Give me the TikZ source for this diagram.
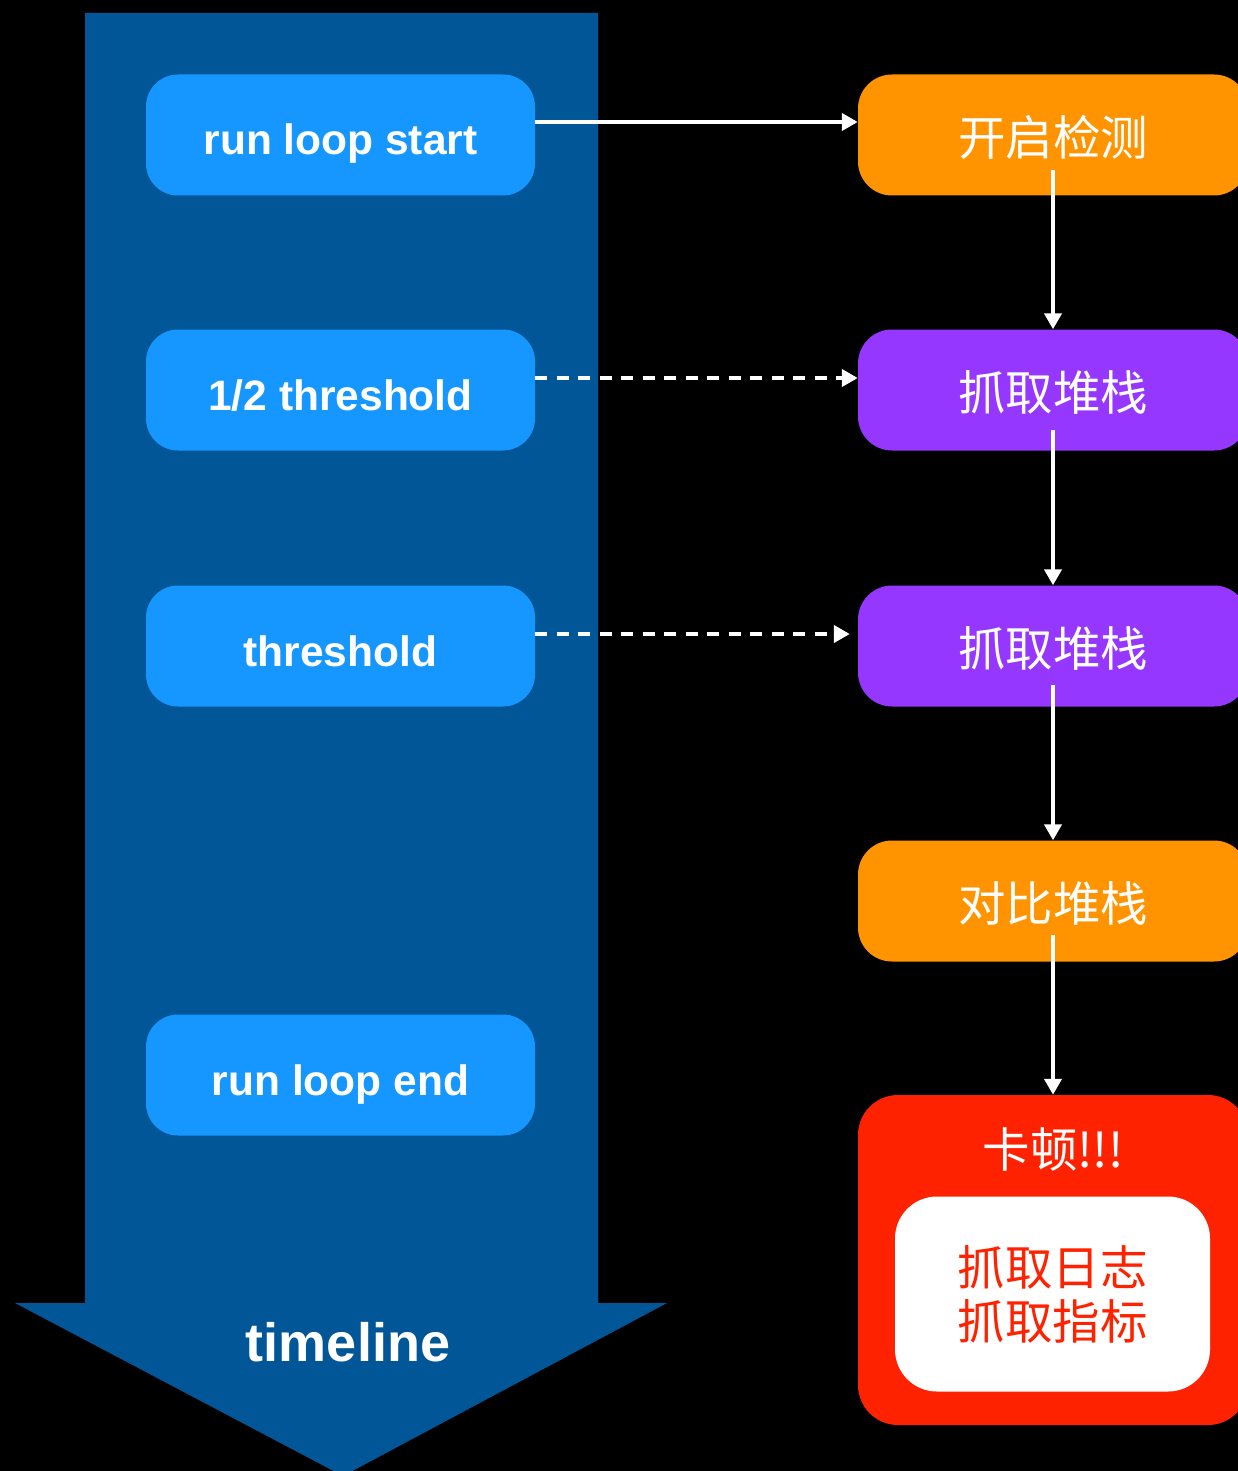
\documentclass[tikz,border=0pt]{standalone}
\usepackage{fontspec}
\setmainfont{Liberation Sans}
\newfontfamily\cjk{Noto Sans CJK SC}
\usetikzlibrary{arrows.meta}
\definecolor{shaftblue}{RGB}{0,86,150}
\definecolor{boxblue}{RGB}{21,151,255}
\definecolor{orng}{RGB}{255,148,0}
\definecolor{purp}{RGB}{149,55,255}
\definecolor{redbox}{RGB}{255,34,0}
\begin{document}
\begin{tikzpicture}[x=1pt,y=-1pt,
  tbox/.style={rectangle,rounded corners=32pt,fill=boxblue,minimum width=389pt,minimum height=121pt,inner sep=0pt,text=white,text height=40pt,text depth=0pt,font=\fontsize{42.5}{50}\selectfont\bfseries},
  rbox/.style={rectangle,rounded corners=34pt,minimum width=390pt,minimum height=121pt,inner sep=0pt,text=white,text height=41pt,text depth=0pt,font=\cjk\fontsize{47.5}{54}\selectfont},
  conn/.style={white,line width=4.5pt,-{Triangle[length=16pt,width=17pt]}},
  dconn/.style={conn,dash pattern=on 12pt off 9.5pt}]
\useasboundingbox (0,0) rectangle (1238,1471);
\fill[black] (0,0) rectangle (1238,1471);
% timeline arrow
\fill[shaftblue] (85,13) -- (598,13) -- (598,1303) -- (667,1303) -- (343,1476) -- (15,1303) -- (85,1303) -- cycle;
\node[text=white,font=\fontsize{54}{60}\selectfont\bfseries] (tl) at (348,1342) {timeline};
% left boxes
\node[tbox] (b1) at (340.5,135) {run loop start};
\node[tbox] (b2) at (340.5,390) {1/2 threshold};
\node[tbox] (b3) at (340.5,646) {threshold};
\node[tbox] (b4) at (340.5,1075) {run loop end};
% right boxes
\node[rbox,fill=orng] (r1) at (1053,135) {开启检测};
\node[rbox,fill=purp] (r2) at (1053,390) {抓取堆栈};
\node[rbox,fill=purp] (r3) at (1053,646) {抓取堆栈};
\node[rbox,fill=orng] (r4) at (1053,901) {对比堆栈};
\node[rbox,fill=redbox,minimum height=330pt,rounded corners=40pt] (r5) at (1053,1260) {};
\node[text=white,font=\cjk\fontsize{47.5}{54}\selectfont,inner sep=0pt] (kd) at (1053,1149) {卡顿!!!};
\node[rectangle,rounded corners=42pt,fill=white,minimum width=315pt,minimum height=195pt,inner sep=0pt,
  text=redbox,font=\cjk\fontsize{47.5}{54}\selectfont,align=center] (inner) at (1052.5,1294) {抓取日志\\抓取指标};
% connectors
\draw[conn] ([yshift=13pt]b1.east) -- ([yshift=13pt]r1.west);
\draw[dconn] ([yshift=12pt]b2.east) -- ([yshift=12pt]r2.west);
\draw[dconn] ([yshift=12pt]b3.east) -- ([yshift=12pt,xshift=-8pt]r3.west);
\draw[conn] ([yshift=-35pt]r1.center) -- (r2.north);
\draw[conn] ([yshift=-40pt]r2.center) -- (r3.north);
\draw[conn] ([yshift=-39pt]r3.center) -- (r4.north);
\draw[conn] ([yshift=-34pt]r4.center) -- (r5.north);
\end{tikzpicture}
\end{document}
